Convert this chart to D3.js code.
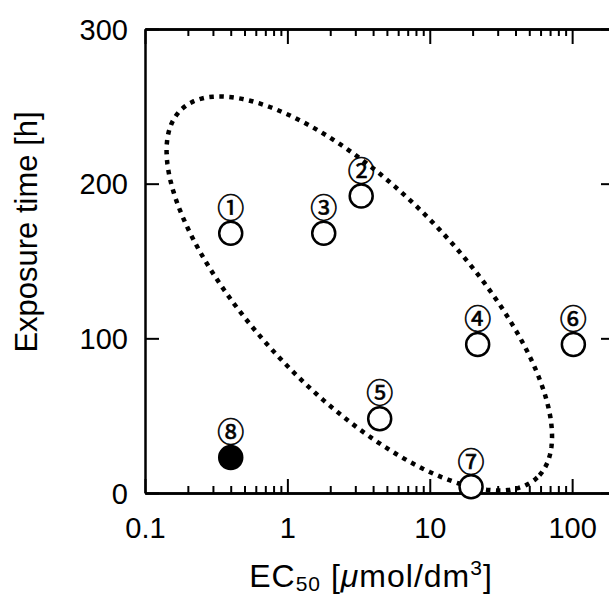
<!DOCTYPE html>
<html>
<head>
<meta charset="utf-8">
<script src="https://cdnjs.cloudflare.com/ajax/libs/d3/7.8.5/d3.min.js"></script>
<style>
  body { margin: 0; background: #fff; }
  text { font-family: "Liberation Sans", Arial, sans-serif; fill: #000; }
</style>
</head>
<body>
<div class="chart"></div>
<script>
// data
var labels = ["①", "②", "③", "④", "⑤", "⑥", "⑦", "⑧"];
var ec50 = [0.4, 3.3, 1.8, 21.7, 4.45, 102, 19.5, 0.4];
var hours = [168, 192, 168, 96, 48, 96, 4, 23];
var filled = [false, false, false, false, false, false, false, true];

var xTicks = [0.1, 1, 10, 100];
var yTicks = [0, 100, 200, 300];

// dotted ellipse: centre and two conjugate half-axes in (decades, hours)
var ellipseCenter = [3.2, 129];
var ellipseMajor = [1.25, -119];
var ellipseMinor = [-0.52, -45.5];

var svgWidth = 609;
var svgHeight = 596;

var margin = {
  top: 29,
  right: -6,
  bottom: 103,
  left: 145
};

var width = svgWidth - margin.left - margin.right;
var height = svgHeight - margin.top - margin.bottom;

var svg = d3
  .select(".chart")
  .append("svg")
  .attr("width", svgWidth)
  .attr("height", svgHeight);

var chartGroup = svg.append("g")
  .attr("transform", `translate(${margin.left}, ${margin.top})`);

var xLogScale = d3.scaleLog()
  .domain([0.1, 200])
  .range([0, width]);

var yLinearScale = d3.scaleLinear()
  .domain([0, 300])
  .range([height, 0]);

// minor + major ticks for the log axis
var allX = xLogScale.ticks().filter(d => d < 200);
var majorX = allX.filter(d => xTicks.indexOf(d) >= 0);
var minorX = allX.filter(d => xTicks.indexOf(d) < 0);

function tickFormat(d) {
  return d < 1 ? d3.format(".1f")(d) : d3.format("d")(d);
}

// bottom axis (ticks point inward)
var bottomMajor = d3.axisBottom(xLogScale)
  .tickValues(majorX)
  .tickSizeInner(-14)
  .tickSizeOuter(0)
  .tickPadding(24)
  .tickFormat(tickFormat);

var bottomMinor = d3.axisBottom(xLogScale)
  .tickValues(minorX)
  .tickSizeInner(-7)
  .tickSizeOuter(0)
  .tickFormat("");

var xAxis = chartGroup.append("g")
  .attr("transform", `translate(0, ${height})`)
  .call(bottomMajor);

chartGroup.append("g")
  .attr("transform", `translate(0, ${height})`)
  .call(bottomMinor);

// top axis mirror
chartGroup.append("g")
  .call(d3.axisTop(xLogScale).tickValues(majorX).tickSizeInner(-15).tickSizeOuter(0).tickFormat(""));
chartGroup.append("g")
  .call(d3.axisTop(xLogScale).tickValues(minorX).tickSizeInner(-7).tickSizeOuter(0).tickFormat(""));

// left + right axes
var yAxis = chartGroup.append("g")
  .call(d3.axisLeft(yLinearScale)
    .tickValues(yTicks)
    .tickSizeInner(-14)
    .tickSizeOuter(0)
    .tickPadding(17));

chartGroup.append("g")
  .attr("transform", `translate(${width}, 0)`)
  .call(d3.axisRight(yLinearScale).tickValues(yTicks).tickSizeInner(-14).tickSizeOuter(0).tickFormat(""));

chartGroup.selectAll(".domain")
  .attr("stroke", "#000")
  .attr("stroke-width", 2.5);

chartGroup.selectAll(".tick line")
  .attr("stroke", "#000")
  .attr("stroke-width", 2);

chartGroup.selectAll(".tick text")
  .style("font-size", "29px")
  .style("font-family", "'Liberation Sans', Arial, sans-serif")
  .attr("fill", "#000");

xAxis.selectAll(".tick text").attr("dy", "0.71em");
yAxis.selectAll(".tick text").attr("dy", "0.35em");

// dotted ellipse
var ellipsePts = d3.range(0, 2 * Math.PI + 0.01, Math.PI / 90).map(function(t) {
  var lx = Math.log10(ellipseCenter[0]) + Math.cos(t) * ellipseMajor[0] + Math.sin(t) * ellipseMinor[0];
  var ly = ellipseCenter[1] + Math.cos(t) * ellipseMajor[1] + Math.sin(t) * ellipseMinor[1];
  return [xLogScale(Math.pow(10, lx)), yLinearScale(ly)];
});

chartGroup.append("path")
  .attr("d", d3.line().curve(d3.curveLinearClosed)(ellipsePts))
  .attr("fill", "none")
  .attr("stroke", "#000")
  .attr("stroke-width", 4.5)
  .attr("stroke-dasharray", "4.5 5.5");

// points
var points = labels.map(function(l, i) {
  return { label: l, x: ec50[i], y: hours[i], filled: filled[i] };
});

chartGroup.selectAll("circle.pt")
  .data(points)
  .enter()
  .append("circle")
  .attr("class", "pt")
  .attr("cx", d => xLogScale(d.x))
  .attr("cy", d => yLinearScale(d.y))
  .attr("r", 11.5)
  .attr("fill", d => d.filled ? "#000" : "#fff")
  .attr("stroke", "#000")
  .attr("stroke-width", 2.5);

chartGroup.selectAll("text.lbl")
  .data(points)
  .enter()
  .append("text")
  .attr("class", "lbl")
  .attr("x", d => xLogScale(d.x))
  .attr("y", d => yLinearScale(d.y) - 25)
  .attr("dy", "0.36em")
  .attr("text-anchor", "middle")
  .style("font-family", "'Noto Sans CJK JP', sans-serif")
  .style("font-size", "27px")
  .style("stroke", "#000")
  .style("stroke-width", 0.6)
  .text(d => d.label);

// axis titles
svg.append("text")
  .attr("transform", "rotate(-90)")
  .attr("x", -232)
  .attr("y", 37)
  .attr("text-anchor", "middle")
  .style("font-size", "31px")
  .text("Exposure time [h]");

var xTitle = svg.append("text")
  .attr("x", 371)
  .attr("y", 587)
  .attr("text-anchor", "middle")
  .style("font-size", "32px")
  .style("letter-spacing", "1px");

xTitle.append("tspan").text("EC");
xTitle.append("tspan").attr("dy", 4).style("font-size", "21px").text("50");
xTitle.append("tspan").attr("dy", -4).text(" [");
xTitle.append("tspan").style("font-style", "italic").text("μ");
xTitle.append("tspan").text("mol/dm");
xTitle.append("tspan").attr("dy", -12).style("font-size", "21px").text("3");
xTitle.append("tspan").attr("dy", 12).text("]");
</script>
</body>
</html>
